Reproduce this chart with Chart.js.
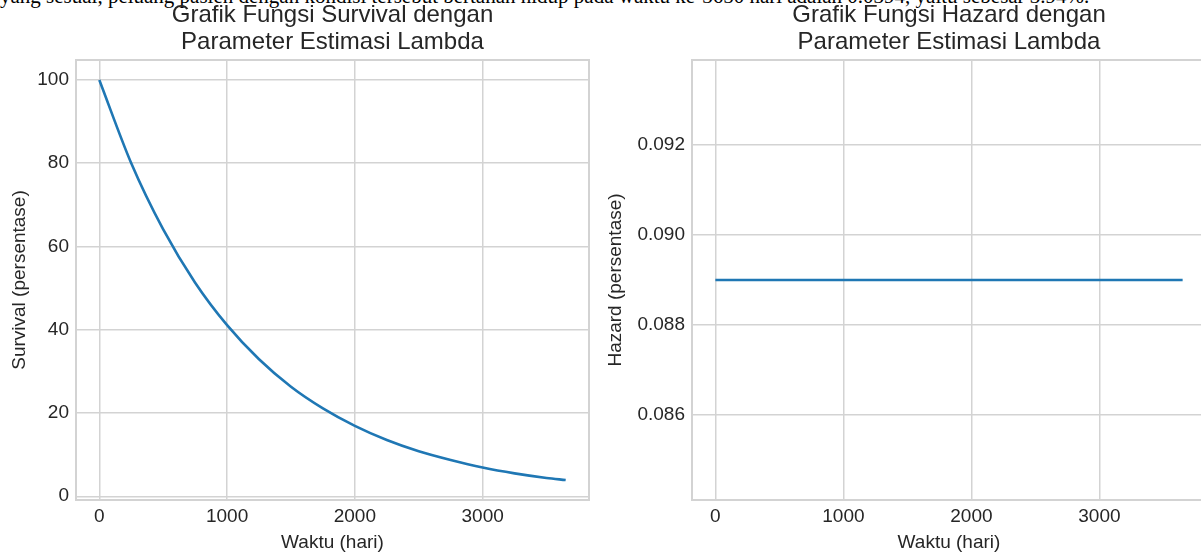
<!DOCTYPE html>
<html>
<head>
<meta charset="utf-8">
<script src="https://cdn.jsdelivr.net/npm/chart.js@4.4.0/dist/chart.umd.min.js"></script>
<style>
    body { margin: 0; width: 1201px; height: 555px; overflow: hidden; background: #fff; position: relative; }
    #txt { position: absolute; left: 0; top: -14px; font: 21px 'Liberation Serif', 'Times New Roman', serif; line-height: 21px; white-space: nowrap; color: #000; }
    #chart_survival { position: absolute; left: 0; top: 0; }
    #chart_hazard { position: absolute; left: 600px; top: 0; }
</style>
</head>
<body>
<div id="txt">yang sesuai, peluang pasien dengan kondisi tersebut bertahan hidup pada waktu ke-3650 hari adalah 0.0394, yaitu sebesar 3.94%.</div>
<canvas id="chart_survival" width="640" height="555"></canvas>
<canvas id="chart_hazard" width="620" height="555"></canvas>
<script>
// values
const waktu = [0, 250, 500, 750, 1000, 1250, 1500, 1750, 2000, 2250, 2500, 2750, 3000, 3250, 3500, 3650];
const survival = [100, 80.0, 64.1, 51.3, 41.1, 32.9, 26.3, 21.1, 16.9, 13.5, 10.8, 8.7, 6.9, 5.5, 4.4, 3.9];

const waktuHazard = [0, 1000, 2000, 3000, 3650];
const hazard = [0.089, 0.089, 0.089, 0.089, 0.089];

const xTicks = [0, 1000, 2000, 3000];
const survivalTicks = [0, 20, 40, 60, 80, 100];
const hazardTicks = [0.086, 0.088, 0.090, 0.092];

const FONT = "'Liberation Sans', Arial, sans-serif";
const TEXT = '#262626';
const GRID = '#d3d3d3';

const twoLineTitle = {
    id: 'twoLineTitle',
    afterDraw(chart, args, opts) {
        const { ctx, chartArea } = chart;
        ctx.save();
        ctx.font = '24px ' + FONT;
        ctx.fillStyle = TEXT;
        ctx.textAlign = 'center';
        ctx.textBaseline = 'middle';
        const cx = (chartArea.left + chartArea.right) / 2;
        opts.lines.forEach((l, i) => ctx.fillText(l, cx, 15 + i * 27));
        ctx.restore();
    }
};

const spines = {
    id: 'spines',
    afterDatasetsDraw(chart) {
        const { ctx, chartArea: { left, top, width, height } } = chart;
        ctx.save();
        ctx.strokeStyle = GRID;
        ctx.lineWidth = 2;
        ctx.strokeRect(left, top, width, height);
        ctx.restore();
    }
};

function pts(xs, ys) {
    return xs.map((x, i) => ({ x: x, y: ys[i] }));
}

function makeOptions(cfg) {
    return {
        responsive: false,
        animation: false,
        layout: { padding: { top: 60, right: cfg.padRight, left: 0, bottom: 0 } },
        scales: {
            x: {
                type: 'linear',
                min: -182.5,
                max: 3832.5,
                afterBuildTicks: (s) => { s.ticks = xTicks.map(v => ({ value: v })); },
                afterFit: (s) => { s.height = 55; },
                grid: { color: GRID, lineWidth: 1.5, drawTicks: false },
                border: { display: false },
                ticks: { color: TEXT, font: { family: FONT, size: 19 }, padding: 5, maxRotation: 0, callback: (v) => String(v) },
                title: { display: true, text: 'Waktu (hari)', color: TEXT, font: { family: FONT, size: 19 }, padding: { top: 0, bottom: 1 } }
            },
            y: {
                type: 'linear',
                min: cfg.yMin,
                max: cfg.yMax,
                afterBuildTicks: (s) => { s.ticks = cfg.yTicks.map(v => ({ value: v })); },
                afterFit: (s) => { s.width = cfg.yWidth; },
                grid: { color: GRID, lineWidth: 1.5, drawTicks: false },
                border: { display: false },
                ticks: { color: TEXT, font: { family: FONT, size: 19 }, padding: 7, callback: cfg.fmt },
                title: { display: true, text: cfg.yLabel, color: TEXT, font: { family: FONT, size: 19 }, padding: { top: cfg.yTitlePad, bottom: 0 } }
            }
        },
        plugins: {
            legend: { display: false },
            tooltip: { enabled: false },
            twoLineTitle: { lines: cfg.title }
        }
    };
}

new Chart(document.getElementById('chart_survival'), {
    type: 'line',
    data: {
        datasets: [{
            data: pts(waktu, survival),
            borderColor: '#1f77b4',
            borderWidth: 2.6,
            pointRadius: 0,
            cubicInterpolationMode: 'monotone',
            fill: false
        }]
    },
    plugins: [spines, twoLineTitle],
    options: makeOptions({
        padRight: 51,
        yMin: -0.9,
        yMax: 104.8,
        yTicks: survivalTicks,
        yWidth: 76,
        yLabel: 'Survival (persentase)',
        yTitlePad: 8,
        fmt: (v) => String(v),
        title: ['Grafik Fungsi Survival dengan', 'Parameter Estimasi Lambda']
    })
});

new Chart(document.getElementById('chart_hazard'), {
    type: 'line',
    data: {
        datasets: [{
            data: pts(waktuHazard, hazard),
            borderColor: '#1f77b4',
            borderWidth: 2.6,
            pointRadius: 0,
            fill: false
        }]
    },
    plugins: [spines, twoLineTitle],
    options: makeOptions({
        padRight: 14,
        yMin: 0.084105,
        yMax: 0.093895,
        yTicks: hazardTicks,
        yWidth: 92,
        yLabel: 'Hazard (persentase)',
        yTitlePad: 4,
        fmt: (v) => v.toFixed(3),
        title: ['Grafik Fungsi Hazard dengan', 'Parameter Estimasi Lambda']
    })
});
</script>
</body>
</html>
